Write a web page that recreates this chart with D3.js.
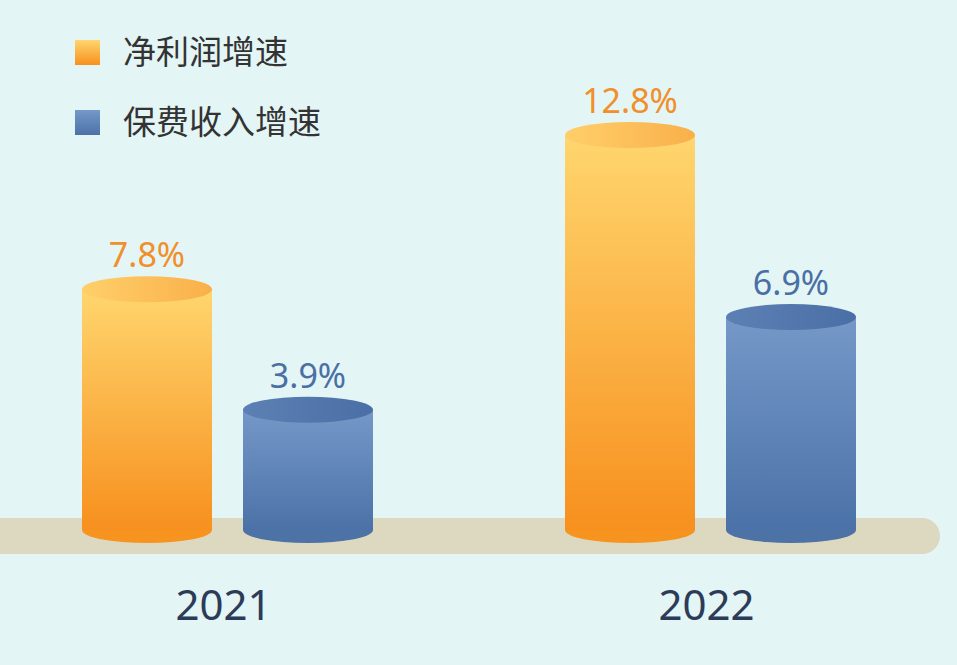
<!DOCTYPE html>
<html><head><meta charset="utf-8">
<script src="https://cdn.jsdelivr.net/npm/d3@7"></script>
<style>body{margin:0;background:#e3f5f5;}</style>
</head><body>
<svg id="chart" width="957" height="665"></svg>
<script>
var years = ["2021", "2022"];
var series = ["净利润增速", "保费收入增速"];
var profitGrowth = [7.8, 12.8];
var premiumGrowth = [3.9, 6.9];

var svg = d3.select("#chart");
var baseY = 530;
var rx = 65, ry = 13;

var defs = svg.append("defs");
function grad(id, stops, vertical) {
    var g = defs.append("linearGradient").attr("id", id)
        .attr("x1", 0).attr("y1", 0).attr("x2", vertical ? 0 : 1).attr("y2", vertical ? 1 : 0);
    stops.forEach(function(s) { g.append("stop").attr("offset", s[0]).attr("stop-color", s[1]); });
}
grad("orangeBody", [[0, "#ffd66e"], [1, "#f7901e"]], true);
grad("orangeTop", [[0, "#ffcf6a"], [1, "#f9b04a"]], false);
grad("blueBody", [[0, "#7598c8"], [1, "#4b72a8"]], true);
grad("blueTop", [[0, "#5d80b4"], [1, "#4a6fa6"]], false);

// group centres and offsets within group
var x0 = d3.scalePoint().domain(years).range([227.5, 710.5]);
var x1 = d3.scalePoint().domain(series).range([-80.5, 80.5]);
var y = d3.scaleLinear().domain([0, 12.8]).range([baseY, 135]);

// base platform
svg.append("rect").attr("x", -20).attr("y", 518).attr("width", 960).attr("height", 36)
    .attr("rx", 18).attr("fill", "#ddd9c0");

var colors = [
    { body: "url(#orangeBody)", top: "url(#orangeTop)", bottom: "#f7941f", label: "#f18f2a" },
    { body: "url(#blueBody)", top: "url(#blueTop)", bottom: "#4c72a6", label: "#4a6fa5" }
];

years.forEach(function(yr, i) {
    [profitGrowth[i], premiumGrowth[i]].forEach(function(v, j) {
        var cx = x0(yr) + x1(series[j]);
        var top = y(v);
        var c = colors[j];
        var g = svg.append("g");
        g.append("ellipse").attr("cx", cx).attr("cy", baseY).attr("rx", rx).attr("ry", ry).attr("fill", c.bottom);
        g.append("rect").attr("x", cx - rx).attr("y", top).attr("width", rx * 2).attr("height", baseY - top).attr("fill", c.body);
        g.append("ellipse").attr("cx", cx).attr("cy", top).attr("rx", rx).attr("ry", ry).attr("fill", c.top);
        g.append("text").attr("x", cx).attr("y", top - 22).attr("text-anchor", "middle")
            .attr("font-family", "'Noto Sans', sans-serif").attr("font-size", "34px")
            .attr("fill", c.label).text(v.toFixed(1) + "%");
    });
    svg.append("text").attr("x", x0(yr) - 4).attr("y", 620).attr("text-anchor", "middle")
        .attr("font-family", "'Noto Sans', sans-serif").attr("font-size", "42px")
        .attr("fill", "#2c3b57").text(yr);
});

// legend
series.forEach(function(s, i) {
    var ly = 40 + i * 70;
    svg.append("rect").attr("x", 75).attr("y", ly).attr("width", 25).attr("height", 25)
        .attr("fill", i === 0 ? "url(#orangeBody)" : "url(#blueBody)");
    svg.append("text").attr("x", 123).attr("y", ly + 24)
        .attr("font-family", "'Noto Sans CJK SC', sans-serif").attr("font-size", "33px")
        .attr("fill", "#333").text(s);
});
</script>
</body></html>
